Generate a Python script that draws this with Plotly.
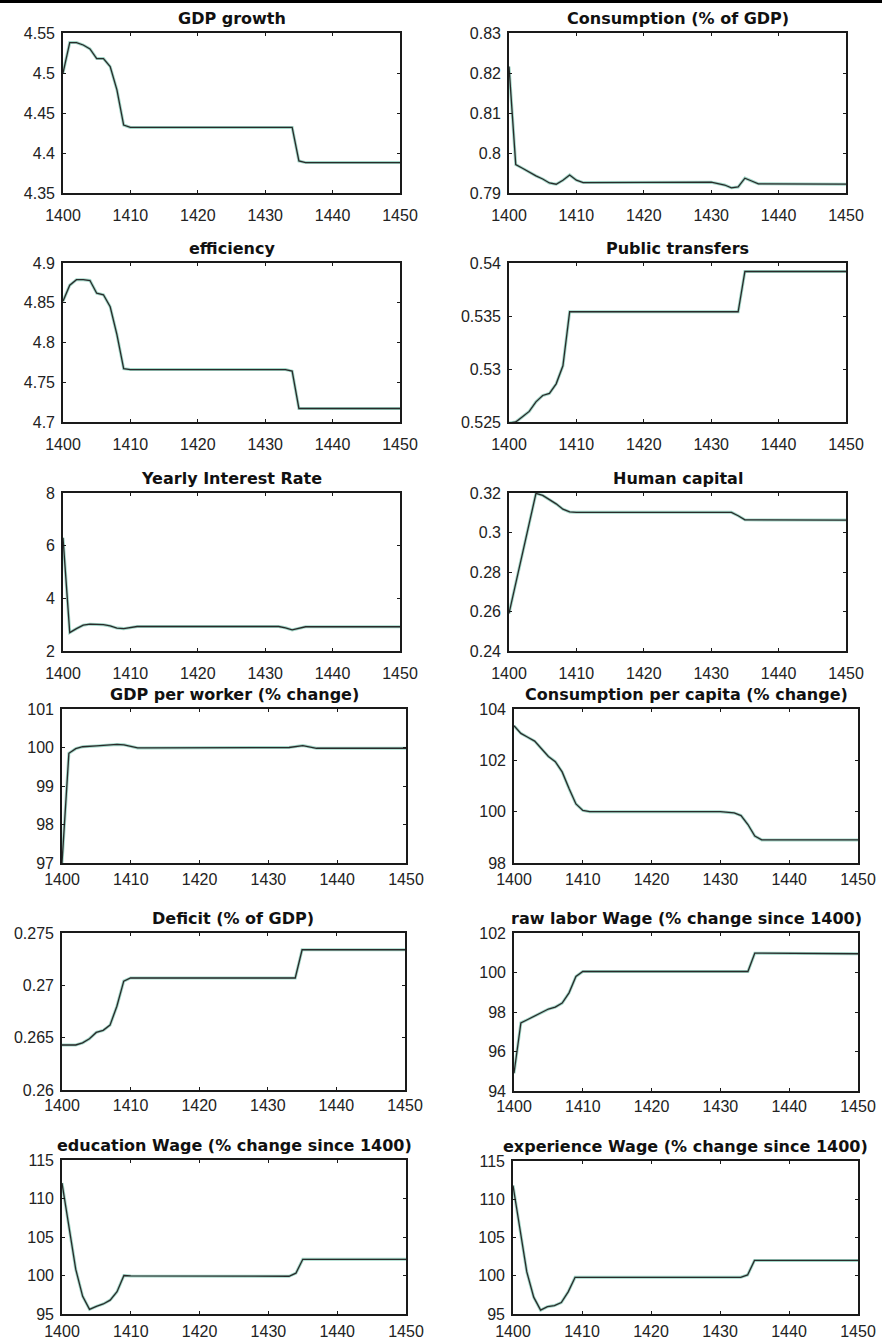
import plotly.graph_objects as go

W, H = 882, 1343

# ---------------- data ----------------
titles = ["GDP growth", "Consumption (% of GDP)", "efficiency", "Public transfers",
          "Yearly Interest Rate", "Human capital", "GDP per worker (% change)",
          "Consumption per capita (% change)", "Deficit (% of GDP)",
          "raw labor Wage (% change since 1400)", "education Wage (% change since 1400)",
          "experience Wage (% change since 1400)"]

gdp_growth_x = [1400, 1401, 1402, 1403, 1404, 1405, 1406, 1407, 1408, 1409, 1410, 1434, 1435, 1436, 1450]
gdp_growth_y = [4.50, 4.538, 4.538, 4.535, 4.530, 4.518, 4.518, 4.508, 4.479, 4.435, 4.432, 4.432, 4.390, 4.388, 4.388]

consumption_x = [1400, 1401, 1402, 1403, 1404, 1405, 1406, 1407, 1408, 1409, 1410, 1411, 1430, 1432, 1433, 1434, 1435, 1436, 1437, 1450]
consumption_y = [0.8216, 0.7971, 0.7962, 0.7952, 0.7943, 0.7935, 0.7925, 0.7922, 0.7932, 0.7945, 0.7932, 0.7926, 0.7927, 0.7920, 0.7913, 0.7915, 0.7937, 0.7930, 0.7923, 0.7922]

efficiency_x = [1400, 1401, 1402, 1403, 1404, 1405, 1406, 1407, 1408, 1409, 1410, 1433, 1434, 1435, 1450]
efficiency_y = [4.852, 4.872, 4.879, 4.879, 4.878, 4.862, 4.860, 4.845, 4.810, 4.767, 4.766, 4.766, 4.764, 4.717, 4.717]

transfers_x = [1400, 1401, 1402, 1403, 1404, 1405, 1406, 1407, 1408, 1409, 1434, 1435, 1450]
transfers_y = [0.5249, 0.5250, 0.5255, 0.5260, 0.5269, 0.5275, 0.5277, 0.5286, 0.5303, 0.5354, 0.5354, 0.5392, 0.5392]

interest_x = [1400, 1401, 1402, 1403, 1404, 1405, 1406, 1407, 1408, 1409, 1410, 1411, 1432, 1433, 1434, 1435, 1436, 1450]
interest_y = [6.3, 2.7, 2.85, 2.98, 3.02, 3.02, 3.0, 2.95, 2.87, 2.85, 2.9, 2.93, 2.93, 2.88, 2.8, 2.85, 2.92, 2.92]

human_x = [1400, 1404, 1405, 1406, 1407, 1408, 1409, 1410, 1433, 1434, 1435, 1450]
human_y = [0.259, 0.3198, 0.3188, 0.3168, 0.3145, 0.3118, 0.3104, 0.3102, 0.3102, 0.3085, 0.3064, 0.3063]

gdp_worker_x = [1400, 1401, 1402, 1403, 1405, 1407, 1408, 1409, 1410, 1411, 1412, 1433, 1435, 1437, 1450]
gdp_worker_y = [97.0, 99.85, 99.97, 100.02, 100.04, 100.06, 100.08, 100.07, 100.02, 99.99, 99.99, 100.0, 100.05, 99.98, 99.98]

cons_pc_x = [1400, 1401, 1402, 1403, 1404, 1405, 1406, 1407, 1408, 1409, 1410, 1411, 1430, 1432, 1433, 1434, 1435, 1436, 1450]
cons_pc_y = [103.35, 103.05, 102.9, 102.75, 102.45, 102.15, 101.95, 101.55, 100.9, 100.3, 100.05, 100.0, 100.0, 99.95, 99.85, 99.5, 99.05, 98.9, 98.9]

deficit_x = [1400, 1402, 1403, 1404, 1405, 1406, 1407, 1408, 1409, 1410, 1434, 1435, 1450]
deficit_y = [0.2643, 0.2643, 0.2645, 0.2649, 0.2655, 0.2657, 0.2662, 0.2680, 0.2704, 0.2707, 0.2707, 0.2734, 0.2734]

raw_wage_x = [1400, 1401, 1402, 1403, 1404, 1405, 1406, 1407, 1408, 1409, 1410, 1434, 1435, 1450]
raw_wage_y = [94.9, 97.45, 97.62, 97.8, 97.96, 98.15, 98.25, 98.45, 98.97, 99.8, 100.05, 100.05, 100.98, 100.95]

edu_wage_x = [1400, 1401, 1402, 1403, 1404, 1405, 1406, 1407, 1408, 1409, 1410, 1433, 1434, 1435, 1450]
edu_wage_y = [112.0, 106.3, 100.8, 97.3, 95.6, 96.0, 96.3, 96.8, 97.9, 100.0, 99.95, 99.9, 100.3, 102.1, 102.1]

exp_wage_x = [1400, 1401, 1402, 1403, 1404, 1405, 1406, 1407, 1408, 1409, 1410, 1433, 1434, 1435, 1450]
exp_wage_y = [111.8, 106.0, 100.5, 97.2, 95.5, 95.95, 96.1, 96.5, 97.9, 99.8, 99.8, 99.8, 100.1, 102.0, 102.0]

series_x = [gdp_growth_x, consumption_x, efficiency_x, transfers_x, interest_x, human_x,
            gdp_worker_x, cons_pc_x, deficit_x, raw_wage_x, edu_wage_x, exp_wage_x]
series_y = [gdp_growth_y, consumption_y, efficiency_y, transfers_y, interest_y, human_y,
            gdp_worker_y, cons_pc_y, deficit_y, raw_wage_y, edu_wage_y, exp_wage_y]

y_ranges = [[4.35, 4.55], [0.79, 0.83], [4.7, 4.9], [0.525, 0.54], [2, 8], [0.24, 0.32],
            [97, 101], [98, 104], [0.26, 0.275], [94, 102], [95, 115], [95, 115]]
y_ticks = [[4.35, 4.4, 4.45, 4.5, 4.55], [0.79, 0.8, 0.81, 0.82, 0.83], [4.7, 4.75, 4.8, 4.85, 4.9],
           [0.525, 0.53, 0.535, 0.54], [2, 4, 6, 8], [0.24, 0.26, 0.28, 0.3, 0.32],
           [97, 98, 99, 100, 101], [98, 100, 102, 104], [0.26, 0.265, 0.27, 0.275],
           [94, 96, 98, 100, 102], [95, 100, 105, 110, 115], [95, 100, 105, 110, 115]]
y_ticktext = [["4.35", "4.4", "4.45", "4.5", "4.55"], ["0.79", "0.8", "0.81", "0.82", "0.83"],
              ["4.7", "4.75", "4.8", "4.85", "4.9"], ["0.525", "0.53", "0.535", "0.54"],
              ["2", "4", "6", "8"], ["0.24", "0.26", "0.28", "0.3", "0.32"],
              ["97", "98", "99", "100", "101"], ["98", "100", "102", "104"],
              ["0.26", "0.265", "0.27", "0.275"], ["94", "96", "98", "100", "102"],
              ["95", "100", "105", "110", "115"], ["95", "100", "105", "110", "115"]]
x_ticks = [1400, 1410, 1420, 1430, 1440, 1450]
x_ticktext = ["1400", "1410", "1420", "1430", "1440", "1450"]

# ---------------- layout boxes (pixels) ----------------
boxes = [  # (left, right, top, bottom)
    (63, 400, 33, 193), (509, 846, 33, 193),
    (63, 400, 263, 422), (509, 846, 263, 422),
    (63, 400, 493, 651), (509, 846, 493, 651),
    (62, 406, 709, 863), (514, 858, 709, 863),
    (62, 405, 933, 1090), (514, 858, 933, 1091),
    (62, 406, 1160, 1314), (513, 858, 1161, 1314),
]
row_standoff = [7, 7, 7, 1, 0, 2]

fig = go.Figure()
annotations = []
layout = {}
for i in range(12):
    n = "" if i == 0 else str(i + 1)
    xa, ya = "x" + n, "y" + n
    l, r, t, b = boxes[i]
    fig.add_trace(go.Scatter(x=series_x[i], y=series_y[i], mode="lines", xaxis=xa, yaxis=ya,
                             line=dict(color="rgba(70,175,145,0.5)", width=3), showlegend=False,
                             hoverinfo="skip"))
    fig.add_trace(go.Scatter(x=series_x[i], y=series_y[i], mode="lines", xaxis=xa, yaxis=ya,
                             line=dict(color="#2a2a2a", width=1.3), showlegend=False))
    common = dict(showgrid=False, zeroline=False, showline=True, linecolor="#1a1a1a", linewidth=1.6,
                  mirror="ticks", ticks="inside", ticklen=3, tickcolor="#1a1a1a", automargin=False,
                  tickfont=dict(family="Liberation Sans, Arial", size=16, color="#222"))
    layout["xaxis" + n] = dict(domain=[l / W, r / W], anchor=ya, range=[1400, 1450],
                               tickvals=x_ticks, ticktext=x_ticktext,
                               ticklabelstandoff=row_standoff[i // 2], **common)
    layout["yaxis" + n] = dict(domain=[1 - b / H, 1 - t / H], anchor=xa, range=y_ranges[i],
                               tickvals=y_ticks[i], ticktext=y_ticktext[i], ticklabelstandoff=3, **common)
    annotations.append(dict(text="<b>" + titles[i] + "</b>", xref="paper", yref="paper",
                            x=(l + r) / 2 / W, y=1 - (t - 3) / H, xanchor="center", yanchor="bottom",
                            showarrow=False, font=dict(family="DejaVu Sans", size=16, color="#111")))

fig.update_layout(template="none", width=W, height=H, margin=dict(l=0, r=0, t=0, b=0, autoexpand=False),
                  paper_bgcolor="white", plot_bgcolor="white", annotations=annotations,
                  shapes=[dict(type="rect", xref="paper", yref="paper", x0=0, x1=1,
                               y0=1 - 3 / H, y1=1, fillcolor="black", line=dict(width=0))],
                  **layout)
fig.write_html("out.html", config={"displayModeBar": False},
               post_script="document.body.style.margin='0px';document.body.style.overflow='hidden';")
